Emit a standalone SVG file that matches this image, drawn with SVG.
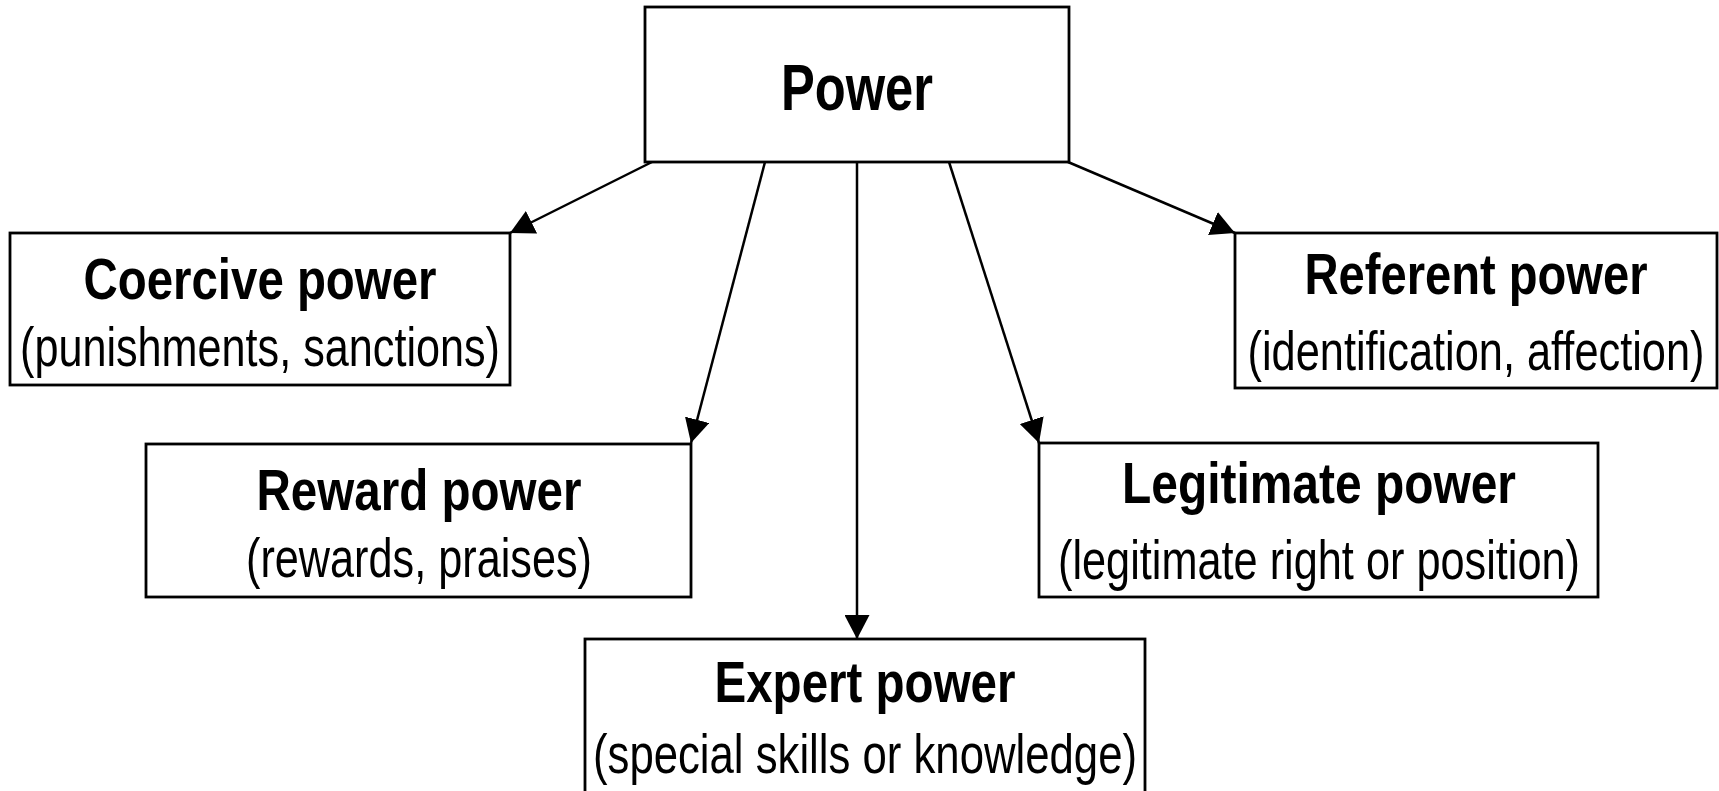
<svg xmlns="http://www.w3.org/2000/svg" width="1719" height="791" viewBox="0 0 1719 791">
<defs>
<style>
.box{fill:#fff;stroke:#000;stroke-width:2.8}
.t{font-family:"Liberation Sans Narrow","Liberation Sans",Arial,sans-serif;text-anchor:middle;fill:#000}
.title{font-size:57px;font-weight:bold}
.sub{font-size:55px;font-weight:normal}
.main{font-size:65px;font-weight:bold}
.edge{stroke:#000;stroke-width:2.5;fill:none;marker-end:url(#ah)}
</style>
<marker id="ah" markerUnits="userSpaceOnUse" viewBox="0 0 24 25" markerWidth="24" markerHeight="25" refX="24" refY="12.5" orient="auto">
<path d="M0,0 L24,12.5 L0,25 Z" fill="#000"/>
</marker>
</defs>
<rect width="1719" height="791" fill="#fff"/>
<g id="connectors">
<line class="edge" x1="652" y1="162" x2="510" y2="233"/>
<line class="edge" x1="765" y1="162" x2="691" y2="443"/>
<line class="edge" x1="857" y1="162" x2="857" y2="639"/>
<line class="edge" x1="949" y1="162" x2="1039" y2="443"/>
<line class="edge" x1="1068" y1="162" x2="1235" y2="233"/>
</g>
<g id="power">
<rect class="box" x="645" y="7" width="424" height="155"/>
<text class="t main" x="857" y="110" textLength="152" lengthAdjust="spacingAndGlyphs">Power</text>
</g>
<g id="coercive">
<rect class="box" x="10" y="233" width="500" height="152"/>
<text class="t title" x="260" y="299" textLength="353" lengthAdjust="spacingAndGlyphs">Coercive power</text>
<text class="t sub" x="260" y="366" textLength="480" lengthAdjust="spacingAndGlyphs">(punishments, sanctions)</text>
</g>
<g id="referent">
<rect class="box" x="1235" y="233" width="482" height="155"/>
<text class="t title" x="1476" y="294" textLength="343" lengthAdjust="spacingAndGlyphs">Referent power</text>
<text class="t sub" x="1476" y="370" textLength="457" lengthAdjust="spacingAndGlyphs">(identification, affection)</text>
</g>
<g id="reward">
<rect class="box" x="146" y="444" width="545" height="153"/>
<text class="t title" x="419" y="510" textLength="325" lengthAdjust="spacingAndGlyphs">Reward power</text>
<text class="t sub" x="419" y="577" textLength="346" lengthAdjust="spacingAndGlyphs">(rewards, praises)</text>
</g>
<g id="legitimate">
<rect class="box" x="1039" y="443" width="559" height="154"/>
<text class="t title" x="1319" y="503" textLength="394" lengthAdjust="spacingAndGlyphs">Legitimate power</text>
<text class="t sub" x="1319" y="579" textLength="522" lengthAdjust="spacingAndGlyphs">(legitimate right or position)</text>
</g>
<g id="expert">
<rect class="box" x="585" y="639" width="560" height="160"/>
<text class="t title" x="865" y="702" textLength="301" lengthAdjust="spacingAndGlyphs">Expert power</text>
<text class="t sub" x="865" y="773" textLength="544" lengthAdjust="spacingAndGlyphs">(special skills or knowledge)</text>
</g>
</svg>
